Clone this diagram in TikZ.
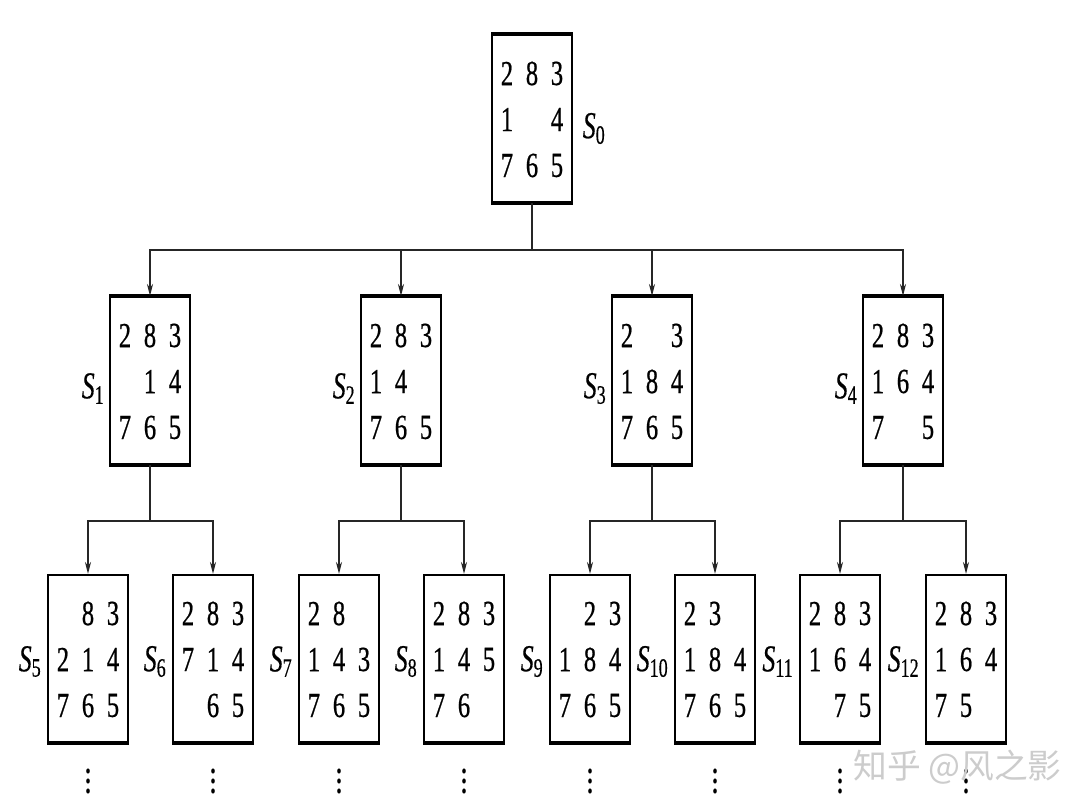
\documentclass[tikz,border=0pt]{standalone}
\usepackage{graphicx}
\usepackage{fontspec}
\setmainfont{Liberation Serif}
\newfontfamily\dgfam{Liberation Serif}[FakeBold=0.8]
\newfontfamily\lbfam{Liberation Serif}[FakeBold=0.5]
\newfontfamily\cjk{Noto Sans CJK SC}
\usetikzlibrary{arrows.meta,calc}
\newcommand\dgfont{\dgfam\fontsize{25pt}{25pt}\selectfont}
\newcommand\lblfont{\lbfam\fontsize{27pt}{27pt}\selectfont\itshape}
\newcommand\puzzle[4]{%
  \node[pbox] (#1) at (#2,#3) {};
  \foreach \dgt [count=\i from 0] in {#4} {%
    \ifnum\dgt>0
      \pgfmathtruncatemacro\rr{div(\i,3)}%
      \pgfmathtruncatemacro\cc{mod(\i,3)}%
      \node[digit] (#1-\i) at ($(#1.center)+(\cc*25-25,\rr*46-45)$) {\scalebox{0.7}[1]{\dgt}};
    \fi
  }%
}
\begin{document}
\begin{tikzpicture}[x=0.025cm,y=-0.025cm,
  pbox/.style={draw=black,line width=0.05cm,minimum width=1.975cm,minimum height=4.175cm,inner sep=0pt},
  thickedge/.style={draw=black,line width=0.1cm},
  digit/.style={inner sep=0pt,font=\dgfont},
  lbl/.style={inner sep=0pt,font=\lblfont},
  conn/.style={draw=black!85,line width=0.04cm},
  arr/.style={conn,-{Stealth[length=0.3cm,width=0.15cm]}},
  dot/.style={fill=black}
]
\fill[white] (0,0) rectangle (1080,810);
\useasboundingbox (0,0) rectangle (1080,810);

% puzzles
\puzzle{s0}{532}{118.5}{2,8,3,1,0,4,7,6,5}
\puzzle{s1}{150}{380.5}{2,8,3,0,1,4,7,6,5}
\puzzle{s2}{401}{380.5}{2,8,3,1,4,0,7,6,5}
\puzzle{s3}{652}{380.5}{2,0,3,1,8,4,7,6,5}
\puzzle{s4}{903}{380.5}{2,8,3,1,6,4,7,0,5}
\puzzle{s5}{88}{658.5}{0,8,3,2,1,4,7,6,5}
\puzzle{s6}{213}{658.5}{2,8,3,7,1,4,0,6,5}
\puzzle{s7}{339}{658.5}{2,8,0,1,4,3,7,6,5}
\puzzle{s8}{464}{658.5}{2,8,3,1,4,5,7,6,0}
\puzzle{s9}{590}{658.5}{0,2,3,1,8,4,7,6,5}
\puzzle{s10}{715}{658.5}{2,3,0,1,8,4,7,6,5}
\puzzle{s11}{840}{658.5}{2,8,3,1,6,4,0,7,5}
\puzzle{s12}{966}{658.5}{2,8,3,1,6,4,7,5,0}

% thick top/bottom edges
\foreach \t in {s0,s1,s2,s3,s4}
  \draw[thickedge] (\t.north west) -- (\t.north east);
\foreach \t in {s0,s1,s2,s3,s4,s5,s6,s7,s8,s9,s10,s11,s12}
  \draw[thickedge] (\t.south west) -- (\t.south east);

% labels
\node[lbl,anchor=west] (l0) at ($(s0.east)+(10,10)$) {\scalebox{0.68}[1]{S\textsubscript{\upshape 0}}};
\foreach \n in {1,2,3,4}
  \node[lbl,anchor=east] (l\n) at ($(s\n.west)+(-5,8)$) {\scalebox{0.68}[1]{S\textsubscript{\upshape\n}}};
\foreach \n in {5,...,12}
  \node[lbl,anchor=east] (l\n) at ($(s\n.west)+(-6,3)$) {\scalebox{0.68}[1]{S\textsubscript{\upshape\n}}};

% connectors level 1
\coordinate (j0) at ($(s0.south)+(0,47)$);
\draw[conn] (s0.south) -- (j0);
\foreach \t in {s1,s2,s3,s4}
  \draw[arr] (j0) -| (\t.north);

% connectors level 2
\foreach \p/\a/\b in {s1/s5/s6, s2/s7/s8, s3/s9/s10, s4/s11/s12} {
  \coordinate (j\p) at ($(\p.south)+(0,56)$);
  \draw[conn] (\p.south) -- (j\p);
  \draw[arr] (j\p) -| (\a.north);
  \draw[arr] (j\p) -| (\b.north);
}

% continuation dots
\foreach \t in {s5,s6,s7,s8,s9,s10,s11,s12}
  \foreach \dy in {28,38,48}
    \fill[dot] ($(\t.south)+(0,\dy)$) ellipse [x radius=1.8, y radius=2.6];

% watermark
\node[font=\cjk\fontsize{24pt}{24pt}\selectfont, text=black!20, anchor=west, inner sep=0pt] (wm) at (853,767) {知乎 @风之影};
\end{tikzpicture}
\end{document}
